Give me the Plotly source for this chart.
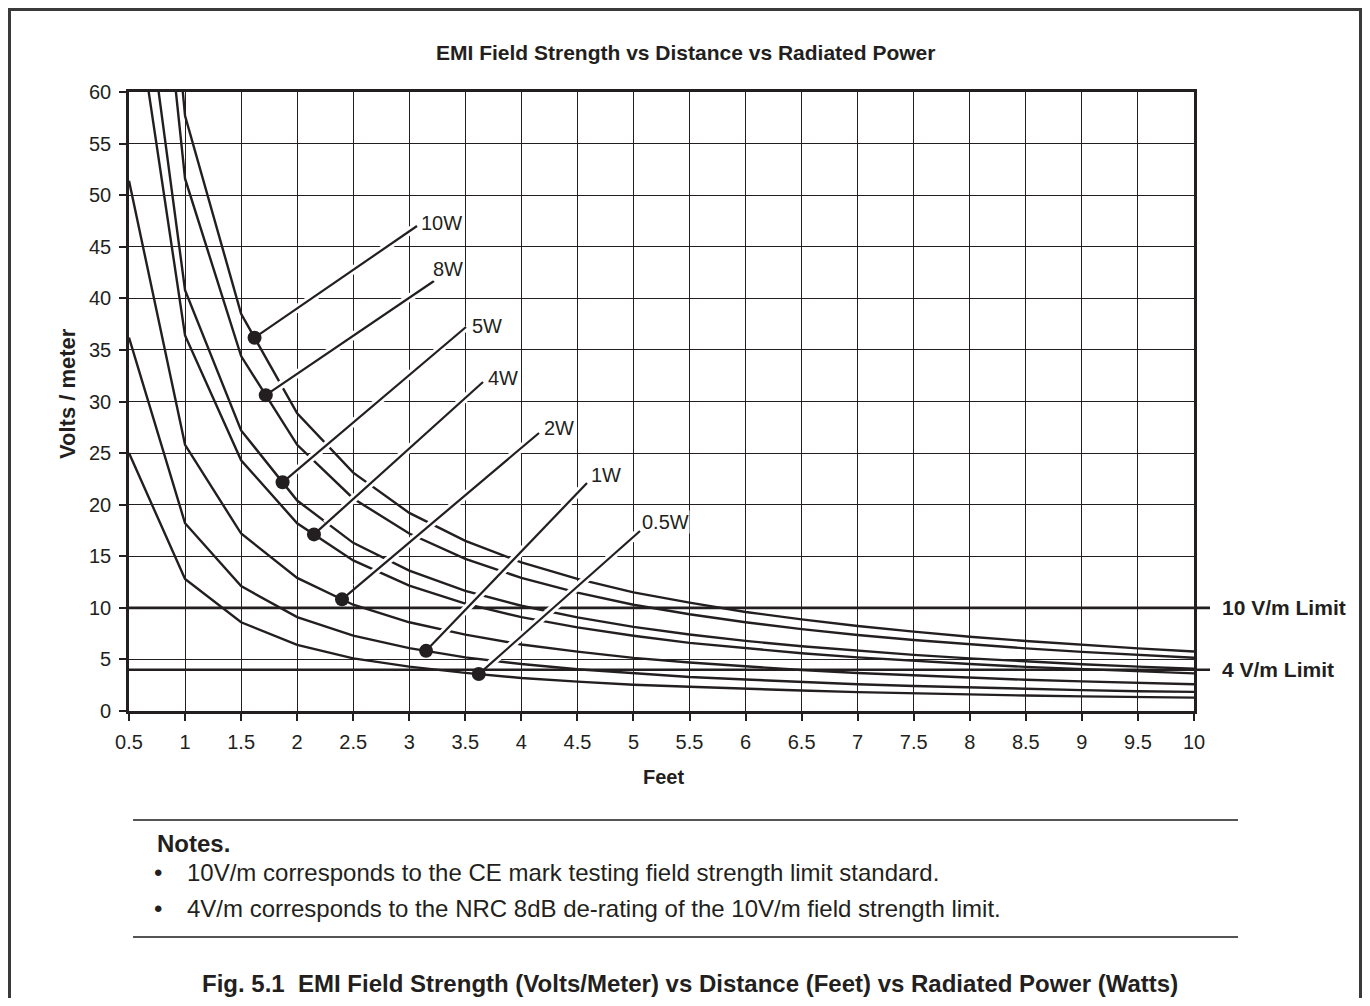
import plotly.graph_objects as go
import numpy as np

# ---------------- data ----------------
FEET = [0.5, 1.0, 1.5, 2.0, 2.5, 3.0, 3.5, 4.0, 4.5, 5.0,
        5.5, 6.0, 6.5, 7.0, 7.5, 8.0, 8.5, 9.0, 9.5, 10.0]

W0_5 = [25.0, 12.8, 8.6, 6.4, 5.1, 4.3, 3.7, 3.2, 2.85, 2.55,
        2.35, 2.15, 1.98, 1.83, 1.7, 1.6, 1.5, 1.42, 1.35, 1.3]
W1 = [36.2, 18.2, 12.1, 9.1, 7.3, 6.1, 5.2, 4.55, 4.05, 3.65,
      3.3, 3.05, 2.8, 2.6, 2.43, 2.28, 2.14, 2.02, 1.92, 1.85]
W2 = [51.4, 25.8, 17.2, 12.9, 10.3, 8.6, 7.4, 6.45, 5.75, 5.15,
      4.7, 4.3, 3.97, 3.68, 3.44, 3.22, 3.03, 2.87, 2.72, 2.6]
W4 = [72.8, 36.4, 24.3, 18.2, 14.6, 12.15, 10.4, 9.1, 8.1, 7.3,
      6.6, 6.07, 5.6, 5.2, 4.85, 4.55, 4.28, 4.05, 3.83, 3.65]
W5 = [81.6, 40.8, 27.2, 20.4, 16.3, 13.6, 11.65, 10.2, 9.07, 8.16,
      7.42, 6.8, 6.28, 5.83, 5.44, 5.1, 4.8, 4.53, 4.3, 4.1]
W8 = [103.2, 51.6, 34.4, 25.8, 20.6, 17.2, 14.75, 12.9, 11.47, 10.3,
      9.38, 8.6, 7.94, 7.37, 6.88, 6.45, 6.07, 5.73, 5.43, 5.16]
W10 = [115.4, 57.7, 38.5, 28.85, 23.1, 19.2, 16.5, 14.4, 12.8, 11.5,
       10.5, 9.6, 8.88, 8.24, 7.69, 7.2, 6.79, 6.41, 6.07, 5.77]

SERIES_NAMES = ["10W", "8W", "5W", "4W", "2W", "1W", "0.5W"]
SERIES = [W10, W8, W5, W4, W2, W1, W0_5]

# distance (feet) at which each callout dot sits on its curve
DOT_FEET = [1.62, 1.72, 1.87, 2.15, 2.40, 3.15, 3.62]

LIMITS = [10, 4]
LIMIT_LABELS = ["10 V/m Limit", "4 V/m Limit"]

X_TICKS = [0.5, 1, 1.5, 2, 2.5, 3, 3.5, 4, 4.5, 5, 5.5, 6, 6.5, 7, 7.5,
           8, 8.5, 9, 9.5, 10]
X_TICK_TEXT = ["0.5", "1", "1.5", "2", "2.5", "3", "3.5", "4", "4.5", "5",
               "5.5", "6", "6.5", "7", "7.5", "8", "8.5", "9", "9.5", "10"]
Y_TICKS = [0, 5, 10, 15, 20, 25, 30, 35, 40, 45, 50, 55, 60]

TITLE = "EMI Field Strength vs Distance vs Radiated Power"
X_TITLE = "Feet"
Y_TITLE = "Volts / meter"
NOTES_HEAD = "Notes."
NOTES = ["10V/m corresponds to the CE mark testing field strength limit standard.",
         "4V/m corresponds to the NRC 8dB de-rating of the 10V/m field strength limit."]
CAPTION = "Fig. 5.1  EMI Field Strength (Volts/Meter) vs Distance (Feet) vs Radiated Power (Watts)"

# ---------------- layout geometry (page pixels) ----------------
OFF = 8                      # default body margin of the page
WIDTH, HEIGHT = 1354, 990    # figure size (fits in window with body margin)
L, R, T, B = 129, 1194, 92, 711   # plot area in page pixels
XMIN, XMAX, YMIN, YMAX = 0.5, 10.0, 0.0, 60.0


def px(x):
    return (x - L) / (R - L)


def py(y):
    return (B - y) / (B - T)


def xdata(p):
    return XMIN + (p - L) / (R - L) * (XMAX - XMIN)


def ydata(p):
    return YMIN + (B - p) / (B - T) * (YMAX - YMIN)


# callout leader-line end points (page pixels) and label offsets
CALLOUT_END_PX = [(417, 226), (434, 281), (466, 327), (483, 382),
                  (539, 433), (587, 483), (640, 531)]
LABEL_SHIFT = [(3, 3), (-2, 12), (5, 1), (4, 4), (4, 5), (3, 8), (1, 9)]

FONT = "Liberation Sans, Arial, Helvetica, sans-serif"
INK = "#231f20"

fig = go.Figure()

# curves
for name, vals in zip(SERIES_NAMES, SERIES):
    fig.add_trace(go.Scatter(x=FEET, y=vals, mode="lines", name=name,
                             line=dict(color=INK, width=2.4),
                             hoverinfo="x+y+name"))

# callouts
dots_x, dots_y = [], []
for name, vals, dx, (ex_px, ey_px), (sx, sy) in zip(
        SERIES_NAMES, SERIES, DOT_FEET, CALLOUT_END_PX, LABEL_SHIFT):
    dy = float(np.interp(dx, FEET, vals))
    ex, ey = xdata(ex_px), ydata(ey_px)
    hx0 = dx + 0.07 * (ex - dx)
    hy0 = dy + 0.07 * (ey - dy)
    fig.add_trace(go.Scatter(x=[hx0, ex], y=[hy0, ey], mode="lines",
                             line=dict(color="white", width=8),
                             hoverinfo="skip", showlegend=False))
    fig.add_trace(go.Scatter(x=[dx, ex], y=[dy, ey], mode="lines",
                             line=dict(color=INK, width=2.2),
                             hoverinfo="skip", showlegend=False))
    dots_x.append(dx)
    dots_y.append(dy)
    fig.add_annotation(x=ex, y=ey, xref="x", yref="y", text=name,
                       showarrow=False, xanchor="left", yanchor="middle",
                       xshift=sx, yshift=sy, bgcolor="white", borderpad=0,
                       font=dict(family=FONT, size=20, color=INK))

fig.add_trace(go.Scatter(x=dots_x, y=dots_y, mode="markers",
                         marker=dict(color=INK, size=14),
                         hoverinfo="skip", showlegend=False))

# limit lines
for lim, lab in zip(LIMITS, LIMIT_LABELS):
    fig.add_shape(type="line", xref="paper", yref="y",
                  x0=0, x1=px(1210), y0=lim, y1=lim,
                  line=dict(color=INK, width=2.6), layer="between")
    fig.add_annotation(x=px(1220), y=lim, xref="paper", yref="y",
                       text=f"<b>{lab}</b>", showarrow=False,
                       xanchor="left", yanchor="middle",
                       font=dict(family=FONT, size=21, color=INK))

# outer frame
fig.add_shape(type="rect", xref="paper", yref="paper",
              x0=px(OFF + 1.5), x1=px(OFF + WIDTH - 1.5),
              y0=py(1020), y1=py(OFF + 1.5),
              line=dict(color="#3a3a3a", width=3), layer="above")

# note rules
for yy in (820, 937):
    fig.add_shape(type="line", xref="paper", yref="paper",
                  x0=px(133), x1=px(1238), y0=py(yy), y1=py(yy),
                  line=dict(color="#555555", width=2))

# texts
fig.add_annotation(x=px(685), y=py(52), xref="paper", yref="paper",
                   text=f"<b>{TITLE}</b>", showarrow=False,
                   xanchor="center", yanchor="middle",
                   font=dict(family=FONT, size=21, color=INK))
fig.add_annotation(x=px(67), y=py(393), xref="paper", yref="paper",
                   text=f"<b>{Y_TITLE}</b>", showarrow=False, textangle=-90,
                   xanchor="center", yanchor="middle",
                   font=dict(family=FONT, size=22, color=INK))
fig.add_annotation(x=px(663), y=py(777), xref="paper", yref="paper",
                   text=f"<b>{X_TITLE}</b>", showarrow=False,
                   xanchor="center", yanchor="middle",
                   font=dict(family=FONT, size=20, color=INK))
fig.add_annotation(x=px(155), y=py(843), xref="paper", yref="paper",
                   text=f"<b>{NOTES_HEAD}</b>", showarrow=False,
                   xanchor="left", yanchor="middle",
                   font=dict(family=FONT, size=24, color=INK))
for yy, note in zip((872, 908), NOTES):
    fig.add_annotation(x=px(152), y=py(yy), xref="paper", yref="paper",
                       text="•", showarrow=False,
                       xanchor="left", yanchor="middle",
                       font=dict(family=FONT, size=24, color=INK))
    fig.add_annotation(x=px(185), y=py(yy), xref="paper", yref="paper",
                       text=note, showarrow=False,
                       xanchor="left", yanchor="middle",
                       font=dict(family=FONT, size=24, color=INK))
fig.add_annotation(x=px(690), y=py(983), xref="paper", yref="paper",
                   text=f"<b>{CAPTION}</b>", showarrow=False,
                   xanchor="center", yanchor="middle",
                   font=dict(family=FONT, size=24, color=INK))

axis_common = dict(showgrid=True, gridcolor=INK, gridwidth=1,
                   showline=True, linecolor=INK, linewidth=2.6, mirror=True,
                   ticks="outside", ticklen=7, tickwidth=1.5, tickcolor=INK,
                   zeroline=False, ticklabelstandoff=4,
                   tickfont=dict(family=FONT, size=20, color=INK))

fig.update_layout(
    width=WIDTH, height=HEIGHT,
    margin=dict(l=L - OFF, r=OFF + WIDTH - R, t=T - OFF, b=OFF + HEIGHT - B,
                pad=0),
    paper_bgcolor="white", plot_bgcolor="white",
    showlegend=False,
    xaxis=dict(range=[XMIN, XMAX], tickvals=X_TICKS, ticktext=X_TICK_TEXT,
               **axis_common),
    yaxis=dict(range=[YMIN, YMAX], tickvals=Y_TICKS, **axis_common),
)

fig.write_html("out.html")
